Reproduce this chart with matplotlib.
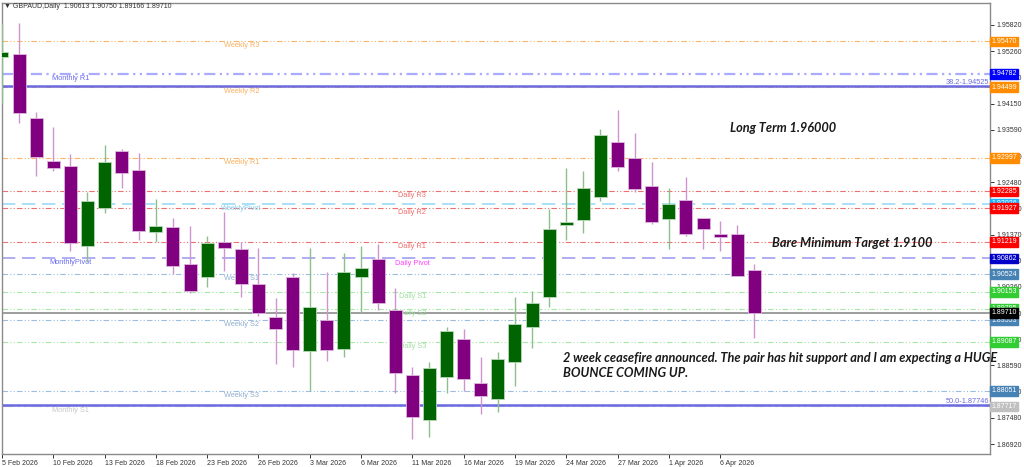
import matplotlib
matplotlib.use("Agg")
import matplotlib.pyplot as plt
from matplotlib import transforms

plt.rcParams['font.family'] = ['Liberation Sans', 'DejaVu Sans']

# daily candles, 5 Feb 2026 .. 8 Apr 2026 (weekdays)
opens = [1.95140, 1.95204, 1.93845, 1.92931, 1.92825, 1.91126, 1.91933, 1.93144, 1.92741, 1.91423,
         1.91529, 1.90744, 1.90467, 1.91211, 1.91062, 1.90319, 1.89618, 1.90467, 1.88896, 1.89554,
         1.88938, 1.90467, 1.90850, 1.89767, 1.88386, 1.87430, 1.88343, 1.89151, 1.88216, 1.87876,
         1.88662, 1.89405, 1.90043, 1.91572, 1.91678, 1.92167, 1.93335, 1.92995, 1.92400, 1.91699,
         1.92103, 1.91721, 1.91381, 1.91381, 1.90613]
highs = [1.95862, 1.95862, 1.93972, 1.93653, 1.93080, 1.92273, 1.93271, 1.93186, 1.93101, 1.92124,
         1.91721, 1.91551, 1.91338, 1.91848, 1.91211, 1.91084, 1.90022, 1.90552, 1.91084, 1.90574,
         1.90977, 1.91126, 1.91169, 1.90234, 1.88556, 1.88662, 1.89405, 1.89363, 1.88768, 1.88874,
         1.90043, 1.90170, 1.91912, 1.92783, 1.92719, 1.93611, 1.94015, 1.93526, 1.92910, 1.92358,
         1.92592, 1.91721, 1.91657, 1.91572, 1.90750]
lows = [1.94163, 1.93738, 1.92613, 1.92719, 1.91020, 1.90786, 1.91827, 1.92358, 1.91254, 1.91211,
        1.90531, 1.90130, 1.90255, 1.90595, 1.90042, 1.89639, 1.88620, 1.88556, 1.88046, 1.88683,
        1.88768, 1.89703, 1.89767, 1.88003, 1.87026, 1.87069, 1.88003, 1.88046, 1.87558, 1.87600,
        1.88152, 1.88959, 1.89830, 1.91254, 1.91402, 1.92082, 1.92719, 1.92273, 1.91593, 1.91062,
        1.91338, 1.91062, 1.91020, 1.90489, 1.89166]
closes = [1.95247, 1.93951, 1.93016, 1.92783, 1.91190, 1.92082, 1.92910, 1.92677, 1.91445, 1.91551,
          1.90701, 1.90170, 1.91190, 1.91084, 1.90319, 1.89703, 1.89363, 1.88917, 1.89830, 1.88917,
          1.90574, 1.90659, 1.89915, 1.88428, 1.87494, 1.88535, 1.89320, 1.88301, 1.87940, 1.88726,
          1.89469, 1.89915, 1.91487, 1.91636, 1.92358, 1.93484, 1.92804, 1.92337, 1.91636, 1.92018,
          1.91381, 1.91487, 1.91317, 1.90489, 1.89710]

date_ticks = [0, 3, 6, 9, 12, 15, 18, 21, 24, 27, 30, 33, 36, 39, 42]
date_labels = ["5 Feb 2026", "10 Feb 2026", "13 Feb 2026", "18 Feb 2026", "23 Feb 2026",
               "26 Feb 2026", "3 Mar 2026", "6 Mar 2026", "11 Mar 2026", "16 Mar 2026",
               "19 Mar 2026", "24 Mar 2026", "27 Mar 2026", "1 Apr 2026", "6 Apr 2026"]

price_ticks = [1.95820, 1.95260, 1.94700, 1.94150, 1.93590, 1.93030, 1.92480, 1.91920, 1.91370,
               1.90810, 1.90260, 1.89700, 1.89140, 1.88590, 1.88030, 1.87480, 1.86920]

level_names = ["Weekly R3", "Monthly R1", "Weekly R2", "Weekly R1", "Daily R3", "WeeklyPivot",
               "Daily R2", "Daily R1", "MonthlyPivot", "Daily Pivot", "Weekly S1", "Daily S1",
               "Daily S2", "Weekly S2", "Daily S3", "Weekly S3", "Monthly S1"]
level_prices = [1.95470, 1.94782, 1.94499, 1.92997, 1.92285, 1.92026, 1.91927, 1.91219, 1.90862,
                1.90850, 1.90524, 1.90153, 1.89795, 1.89553, 1.89087, 1.88051, 1.87717]

fib_names = ["38.2", "50.0"]
fib_prices = [1.94525, 1.87746]

DDD = (0, (5, 2, 1, 2, 1, 2))
DASH = (0, (8, 4))
# group -> line colour, style, width, text colour, axis box colour, label bar index
styles = {
    "Weekly R": ('#F9B56A', DDD, 0.8, '#F9B060', '#FF8C00', 14),
    "Monthly R": ('#AAAAFF', DDD, 1.6, '#6A6AF0', '#0000FF', 4),
    "Daily R": ('#F07070', DDD, 0.8, '#F07070', '#FF0000', 24),
    "WeeklyPivot": ('#9ADCF5', DASH, 1.2, '#87CEEB', '#1EB4FF', 14),
    "MonthlyPivot": ('#A0A0F0', DASH, 1.2, '#6A6AF0', '#0000C8', 4),
    "Daily Pivot": (None, None, 0, '#FF40FF', None, 24),
    "Weekly S": ('#9CBCE0', DDD, 0.8, '#90AED0', '#4682B4', 14),
    "Daily S": ('#A6E6A6', DDD, 0.8, '#A0E0A0', '#32CD32', 24),
    "Monthly S": ('#D6D6D6', DDD, 1.6, '#C8C8C8', '#C0C0C0', 4),
}


def style_of(name):
    for key in styles:
        if name.startswith(key):
            return styles[key]


fig = plt.figure(figsize=(10.24, 4.67), dpi=100)
ax = fig.add_axes([2 / 1024, 13 / 467, 988 / 1024, 451 / 467])
ax.set_xlim(0, 57.78)
ax.set_ylim(1.86708, 1.96287)

blend = transforms.blended_transform_factory(ax.transAxes, ax.transData)
off = 0.00095

# pivot levels
for name, p in zip(level_names, level_prices):
    lc, ls, lw, tc, bc, xi = style_of(name)
    if lc:
        ax.axhline(p, color=lc, linestyle=ls, lw=lw, zorder=1)
    ax.text(xi, p - off, name, color=tc, fontsize=5.3, ha='center', va='center', zorder=1.5)
    if bc:
        ax.text(1.0015, p, f"{p:.5f}", transform=blend, color='white', fontsize=5,
                ha='left', va='center', clip_on=False, zorder=8,
                bbox=dict(boxstyle='square,pad=0.2', facecolor=bc, edgecolor=bc))

# fibonacci levels
for name, p in zip(fib_names, fib_prices):
    ax.axhline(p, color='#6A6AE0', lw=1.8, zorder=1.2)
    ax.text(0.999, p, f"{name}-{p:.5f}", transform=blend, color='#6A6AE0', fontsize=5.3,
            ha='right', va='bottom', zorder=1.5)

# current price
last = closes[-1]
ax.axhline(last, color='#8C8C8C', lw=1.2, zorder=1.3)
ax.text(1.0015, last, f"{last:.5f}", transform=blend, color='white', fontsize=5,
        ha='left', va='center', clip_on=False, zorder=9,
        bbox=dict(boxstyle='square,pad=0.2', facecolor='black', edgecolor='black'))

# candles
for i, (o, h, l, c) in enumerate(zip(opens, highs, lows, closes)):
    up = c >= o
    body = '#006400' if up else '#800080'
    wick = '#8DBF8D' if up else '#CE94CE'
    edge = '#B8D8B8' if up else '#DDB8DD'
    ax.vlines(i, l, h, color=wick, lw=1, zorder=3)
    bh = max(abs(c - o), 0.00018)
    ax.bar(i, bh, bottom=min(o, c), width=0.76, color=body, edgecolor=edge, lw=0.6, zorder=4)

# notes
note = dict(family=['Lato', 'DejaVu Sans'], fontweight='bold', fontstyle='italic',
            color='#1a1a1a', fontsize=9.2, va='center', ha='left', zorder=6)
ax.text(42.57, 1.93632, "Long Term 1.96000", **note)
ax.text(45.03, 1.91190, "Bare Minimum Target 1.9100", **note)
ax.text(32.8, 1.88747, "2 week ceasefire announced. The pair has hit support and I am expecting a HUGE", **note)
ax.text(32.8, 1.88428, "BOUNCE COMING UP.", **note)

# axes
for s in ax.spines.values():
    s.set_color('#8A8A8A')
    s.set_linewidth(1)
ax.yaxis.tick_right()
ax.set_yticks(price_ticks)
ax.set_yticklabels([f"{t:.5f}" for t in price_ticks])
ax.set_xticks(date_ticks)
ax.set_xticklabels(date_labels, ha='left')
ax.tick_params(axis='both', labelsize=5, colors='#333333', length=3, width=0.7, pad=1.5)
ax.tick_params(axis='x', pad=1)

fig.text(4 / 1024, 1 - 7 / 467, "\u25bc GBPAUD,Daily  1.90613 1.90750 1.89166 1.89710",
         fontsize=5.0, color='#333333', va='center', ha='left')

fig.savefig("out.png", dpi=100)
